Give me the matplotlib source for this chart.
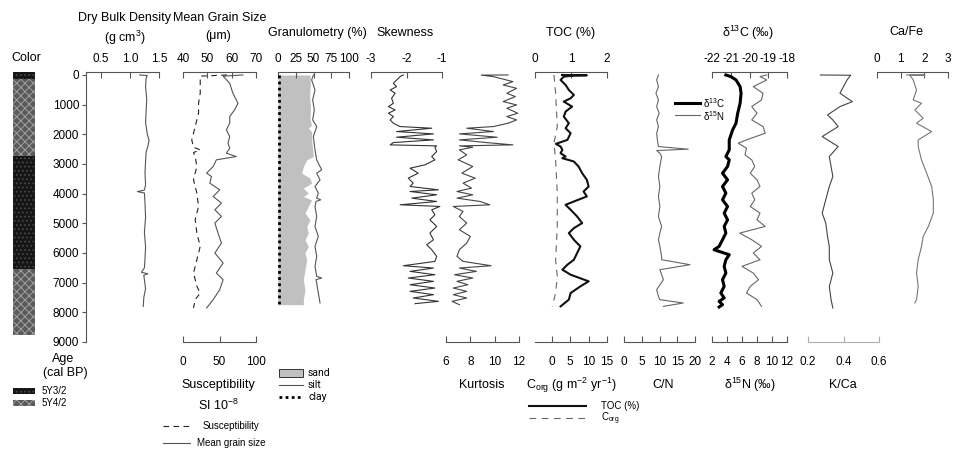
import matplotlib
matplotlib.use('Agg')
import matplotlib.pyplot as plt
from matplotlib.lines import Line2D
from matplotlib.patches import Rectangle

plt.rcParams['font.family'] = ['Liberation Sans', 'DejaVu Sans']
plt.rcParams['mathtext.fontset'] = 'custom'
plt.rcParams['mathtext.rm'] = 'Liberation Sans'
plt.rcParams['mathtext.it'] = 'Liberation Sans'
plt.rcParams['axes.unicode_minus'] = False
plt.rcParams['hatch.linewidth'] = 0.7

# ---------------- data ----------------
color_top = [-100, 150, 2730, 6540]
color_bot = [150, 2730, 6540, 8760]
color_code = ['5Y3/2', '5Y4/2', '5Y3/2', '5Y4/2']

dbd_age = [0, 20, 100, 400, 800, 1200, 1600, 2000, 2200, 2400, 2600, 2900, 3300, 3700, 3880,
           3930, 3980, 4300, 4800, 5300, 5800, 6200, 6500, 6650, 6700, 6750, 6900, 7200, 7500, 7800]
dbd = [1.17, 1.30, 1.28, 1.27, 1.29, 1.28, 1.27, 1.30, 1.33, 1.31, 1.28, 1.27, 1.26, 1.27, 1.25,
       1.13, 1.25, 1.26, 1.27, 1.25, 1.27, 1.26, 1.25, 1.20, 1.31, 1.24, 1.25, 1.27, 1.24, 1.23]

mgs_age = [0, 40, 280, 617, 954, 1178, 1402, 1627, 1851, 2076, 2300, 2468, 2637, 2749, 2861, 3085,
           3310, 3422, 3646, 3871, 4095, 4320, 4544, 4769, 4993, 5329, 5666, 6002, 6339, 6676, 6900,
           7237, 7573, 7854]
mgs = [64.6, 56.5, 59.2, 60.5, 62.6, 61.2, 59.2, 59.2, 57.8, 59.2, 58.5, 59.2, 57.8, 61.9, 53.7, 52.4,
       49.7, 51.7, 51.0, 55.1, 52.4, 55.8, 53.1, 55.8, 53.1, 54.4, 55.8, 53.1, 56.5, 53.7, 56.5,
       55.1, 52.4, 49.7]

sus_age = [0, 40, 280, 617, 954, 1290, 1739, 2188, 2435, 2524, 2614, 2749, 3085, 3534, 3983, 4432,
           4881, 5329, 5778, 6227, 6676, 7125, 7349, 7573, 7854]
sus = [60.0, 23.6, 23.6, 23.6, 21.3, 21.3, 16.7, 12.0, 14.4, 23.6, 14.4, 16.7, 19.0, 14.4, 19.0, 21.3,
       16.7, 19.0, 23.6, 19.0, 14.4, 19.0, 23.6, 16.7, 14.4]

sand_age = [0, 300, 700, 1100, 1515, 1683, 1795, 1907, 2188, 2749, 2861, 3085, 3310, 3478, 3646,
            3815, 3983, 4095, 4208, 4432, 4656, 4881, 5105, 5329, 5554, 5778, 6002, 6227, 6563,
            6900, 7237, 7573, 7742]
sand = [45.1, 45.5, 44.5, 45.8, 45.1, 47.4, 42.7, 47.4, 47.4, 49.8, 40.4, 35.7, 33.3, 45.1, 47.4,
        35.7, 42.7, 35.7, 47.4, 42.7, 38.0, 45.1, 40.4, 42.7, 38.0, 42.7, 38.0, 40.4, 38.0,
        35.7, 38.0, 35.7, 35.7]

silt_age = [0, 168, 505, 841, 1178, 1515, 1739, 2076, 2524, 2861, 3198, 3310, 3534, 3759, 3983,
            4151, 4208, 4264, 4432, 4769, 5105, 5442, 5778, 6115, 6451, 6788, 6844, 6900, 7013,
            7349, 7686]
silt = [49.8, 47.4, 52.1, 48.8, 51.2, 48.8, 54.5, 49.8, 52.1, 54.5, 61.5, 54.5, 59.2, 52.1, 56.8,
        54.5, 60.2, 53.5, 52.1, 54.5, 52.1, 56.8, 52.1, 54.5, 52.1, 54.5, 61.5, 53.5, 54.5,
        56.8, 59.2]

clay_age = [0, 1000, 2000, 3000, 4000, 5000, 6000, 7000, 7750]
clay = [1.0, 1.0, 1.0, 1.0, 1.0, 1.0, 1.0, 1.0, 1.0]

sk_age = [0, 56, 280, 393, 505, 617, 785, 954, 1066, 1178, 1290, 1402, 1515, 1627, 1739, 1795,
          1907, 1986, 2098, 2188, 2278, 2356, 2390, 2435, 2581, 2749, 2861, 3029, 3142, 3310,
          3478, 3646, 3759, 3871, 3927, 4039, 4151, 4264, 4376, 4432, 4544, 4712, 4881, 5105,
          5329, 5554, 5722, 5890, 6115, 6283, 6429, 6508, 6620, 6732, 6844, 6956, 7069, 7181,
          7293, 7405, 7517, 7630, 7708]
skew = [-2.09, -2.18, -2.37, -2.28, -2.46, -2.32, -2.42, -2.37, -2.51, -2.32, -2.51, -2.37, -2.46,
        -2.37, -2.18, -1.29, -2.28, -1.24, -2.28, -1.24, -2.37, -2.46, -1.15, -1.20, -1.15,
        -1.29, -1.20, -1.48, -1.90, -1.67, -1.95, -1.81, -1.90, -1.10, -1.90, -1.15, -1.85,
        -1.15, -2.18, -1.06, -1.29, -1.20, -1.34, -1.15, -1.34, -1.24, -1.43, -1.29, -1.15,
        -1.20, -2.09, -1.24, -1.90, -1.20, -1.95, -1.24, -1.90, -1.20, -1.90, -1.24, -1.81,
        -1.10, -1.76]

ku_age = [0, 5, 56, 224, 336, 449, 617, 729, 898, 1010, 1122, 1290, 1402, 1515, 1627, 1739, 1795,
          1907, 1986, 2098, 2188, 2278, 2356, 2390, 2435, 2524, 2693, 2861, 3085, 3310, 3478,
          3646, 3815, 3927, 4039, 4151, 4264, 4376, 4432, 4600, 4769, 4993, 5217, 5442, 5666,
          5890, 6115, 6283, 6429, 6508, 6620, 6732, 6844, 6956, 7069, 7181, 7293, 7405, 7517,
          7630, 7742]
kurt = [11.1, 8.9, 9.9, 11.5, 10.7, 11.8, 11.0, 11.7, 10.7, 11.8, 11.0, 11.9, 11.0, 11.8, 11.1,
        9.9, 7.7, 9.9, 7.1, 10.2, 7.1, 9.3, 11.5, 7.1, 8.2, 7.1, 7.7, 7.0, 8.2, 7.3, 8.4, 7.4,
        8.1, 6.9, 8.2, 6.9, 8.8, 9.6, 6.6, 7.4, 7.1, 7.7, 7.1, 8.0, 7.7, 7.1, 6.9, 7.4, 9.7, 7.1,
        8.5, 6.7, 8.2, 6.9, 7.8, 6.6, 7.7, 6.6, 7.7, 6.5, 7.1]

toc_age = [0, 10, 20, 56, 168, 336, 505, 673, 785, 898, 1066, 1234, 1402, 1627, 1795, 1963, 2188,
           2322, 2412, 2524, 2637, 2749, 2805, 2917, 3085, 3310, 3534, 3759, 3927, 4095, 4264,
           4376, 4544, 4769, 4993, 5161, 5329, 5554, 5778, 6002, 6227, 6395, 6563, 6732, 6956,
           7125, 7349, 7573, 7800]
toc = [0.75, 1.44, 1.08, 0.80, 0.71, 0.85, 0.94, 1.08, 0.99, 0.80, 1.03, 0.85, 0.80, 0.94, 0.85,
       0.99, 0.90, 0.58, 0.71, 0.76, 0.71, 0.85, 0.76, 1.08, 1.21, 1.31, 1.44, 1.49, 1.35, 1.44,
       1.08, 0.85, 0.99, 1.17, 1.31, 1.08, 0.94, 1.08, 1.26, 1.17, 1.08, 0.90, 0.76, 0.99, 1.49,
       1.26, 0.99, 0.94, 0.71]

corg_age = [0, 617, 1739, 2300, 2861, 3983, 5105, 6227, 6788, 7349, 7800]
corg = [0.63, 1.08, 1.53, 0.63, 1.08, 1.53, 1.53, 1.08, 1.53, 1.08, 0.18]

cn_age = [0, 168, 393, 617, 841, 1066, 1290, 1515, 1739, 1963, 2188, 2412, 2502, 2547, 2637, 2749,
          3085, 3422, 3759, 4095, 4432, 4769, 5105, 5329, 5554, 5778, 6115, 6227, 6395, 6563,
          6900, 7237, 7461, 7573, 7686, 7798]
cn = [9.7, 9.2, 9.7, 9.0, 9.7, 9.2, 9.9, 9.2, 9.7, 9.2, 9.4, 9.7, 18.1, 9.2, 10.1, 10.6, 10.1, 9.7,
      10.1, 9.7, 10.1, 9.7, 10.6, 10.1, 9.7, 10.1, 10.6, 10.6, 18.6, 10.1, 11.1, 9.2, 9.7, 10.1,
      16.7, 11.1]

d13c_age = [0, 56, 168, 393, 617, 954, 1290, 1627, 1851, 2188, 2524, 2749, 2861, 3085, 3310, 3534,
            3759, 3983, 4208, 4432, 4656, 4881, 5105, 5329, 5554, 5778, 5890, 6059, 6227, 6451,
            6676, 6900, 7125, 7349, 7517, 7630, 7742, 7820]
d13c = [-21.26, -20.99, -20.72, -20.50, -20.45, -20.50, -20.63, -20.72, -20.90, -21.08, -21.08,
        -21.26, -21.08, -21.17, -21.44, -21.17, -21.44, -21.26, -21.44, -21.17, -21.35, -21.17,
        -21.35, -21.26, -21.44, -21.62, -21.89, -21.08, -21.26, -21.35, -21.26, -21.44, -21.35,
        -21.53, -21.35, -21.62, -21.44, -21.62]

d15n_age = [0, 56, 168, 393, 617, 841, 1066, 1290, 1515, 1739, 1963, 2188, 2300, 2468, 2693, 2861,
            3085, 3310, 3534, 3759, 3983, 4208, 4432, 4656, 4881, 5105, 5329, 5554, 5778, 6002,
            6227, 6451, 6676, 6900, 7125, 7349, 7573, 7798]
d15n = [9.3, 8.4, 9.3, 7.5, 8.8, 8.6, 7.3, 8.0, 7.3, 8.8, 9.1, 6.6, 5.5, 6.6, 6.4, 7.3, 7.7, 7.1,
        8.0, 8.4, 7.3, 7.7, 7.1, 8.4, 8.0, 9.1, 5.7, 7.3, 8.6, 7.5, 8.4, 6.0, 7.5, 8.2, 7.1, 6.6,
        8.0, 8.6]

kca_age = [0, 10, 168, 393, 617, 898, 1066, 1346, 1515, 1739, 2076, 2412, 2749, 3085, 3422, 3759,
           4208, 4656, 4993, 5442, 5778, 6227, 6676, 7125, 7573, 7854]
kca = [0.27, 0.44, 0.42, 0.40, 0.38, 0.45, 0.38, 0.31, 0.34, 0.37, 0.28, 0.37, 0.32, 0.33, 0.34,
       0.32, 0.30, 0.28, 0.30, 0.31, 0.32, 0.32, 0.34, 0.32, 0.33, 0.34]

cafe_age = [0, 5, 10, 168, 505, 841, 954, 1178, 1458, 1627, 1907, 2188, 2412, 2861, 3310, 3759,
            4208, 4656, 5105, 5442, 5778, 6227, 6676, 7125, 7573, 7686]
cafe = [1.25, 2.03, 1.39, 1.53, 1.67, 1.53, 1.88, 1.60, 1.95, 1.67, 2.31, 1.74, 1.74, 1.88, 2.10,
        2.31, 2.38, 2.38, 2.17, 1.95, 1.88, 1.74, 1.67, 1.74, 1.67, 1.60]

age_ticks = [0, 1000, 2000, 3000, 4000, 5000, 6000, 7000, 8000, 9000]

# ---------------- layout helpers ----------------
W, H = 963, 453
Y_TOP, Y_BOT = 72, 342
AXC = '#555555'
fig = plt.figure(figsize=(W / 100, H / 100), dpi=100)


def fx(x):
    return x / W


def fy(y):
    return 1 - y / H


def make_ax(x0, x1):
    ax = fig.add_axes([fx(x0), fy(Y_BOT), (x1 - x0) / W, (Y_BOT - Y_TOP) / H])
    ax.set_ylim(9000, -100)
    ax.patch.set_alpha(0)
    for s in ax.spines.values():
        s.set_visible(False)
    ax.tick_params(left=False, labelleft=False, bottom=False, labelbottom=False,
                   top=False, labeltop=False, right=False, labelright=False)
    return ax


def scale(ax, where, xlim, ticks, labels=None, color=AXC):
    ax.set_xlim(xlim)
    ax.spines[where].set_visible(True)
    ax.spines[where].set_color(color)
    ax.spines[where].set_linewidth(0.8)
    ax.xaxis.set_ticks_position(where)
    ax.set_xticks(ticks)
    if labels is not None:
        ax.set_xticklabels(labels)
    if where == 'top':
        ax.tick_params(axis='x', top=True, labeltop=True, bottom=False, labelbottom=False,
                       direction='in', length=4, width=0.8, pad=5, labelsize=8.5, color=color)
    else:
        ax.tick_params(axis='x', bottom=True, labelbottom=True, top=False, labeltop=False,
                       direction='in', length=4, width=0.8, pad=10, labelsize=8.5, color=color)


def ftext(x, y, s, size=9, ha='center', **kw):
    fig.text(fx(x), fy(y), s, fontsize=size, ha=ha, va='center', **kw)


def fline(x0, x1, y, **kw):
    fig.add_artist(Line2D([fx(x0), fx(x1)], [fy(y), fy(y)], transform=fig.transFigure, **kw))


STYLE = {'5Y3/2': dict(facecolor='#161616', edgecolor='#4a4a4a', hatch='....'),
         '5Y4/2': dict(facecolor='#5a5a5a', edgecolor='#a0a0a0', hatch='xxxx')}

# ---------------- colour column ----------------
axc = make_ax(13, 35)
axc.set_xlim(0, 1)
for t, b, c in zip(color_top, color_bot, color_code):
    axc.bar(0.5, b - t, bottom=t, width=1, linewidth=0, **STYLE[c])
ftext(26, 58, 'Color')

# ---------------- dry bulk density + age axis ----------------
ax = make_ax(86, 159)
scale(ax, 'top', (0.25, 1.5), [0.5, 1.0, 1.5], ['0.5', '1.0', '1.5'])
ax.spines['left'].set_visible(True)
ax.spines['left'].set_color(AXC)
ax.spines['left'].set_linewidth(0.8)
ax.set_yticks(age_ticks)
ax.set_yticklabels([str(a) for a in age_ticks])
ax.tick_params(axis='y', left=True, labelleft=True, direction='out', length=3, width=0.8,
               pad=2, labelsize=8.5, color=AXC)
ax.plot(dbd, dbd_age, color='#555555', lw=0.8)
ftext(124, 18, 'Dry Bulk Density')
ftext(125, 38, '(g cm$^{3}$)')
ftext(63, 359, 'Age')
ftext(65, 373, '(cal BP)')

# ---------------- mean grain size / susceptibility ----------------
ax = make_ax(183, 256)
scale(ax, 'top', (40, 70), [40, 50, 60, 70])
ax.plot(mgs, mgs_age, color='#555555', lw=0.8)
ax2 = make_ax(183, 256)
scale(ax2, 'bottom', (0, 100), [0, 50, 100])
ax2.plot(sus, sus_age, color='#222222', lw=0.8, dashes=(5, 4))
ftext(220, 18, 'Mean Grain Size')
ftext(218, 36, '(μm)')
ftext(218, 385, 'Susceptibility')
ftext(218, 405, 'SI 10$^{-8}$')
fline(163, 190, 426, color='#222222', lw=0.8, dashes=(5, 4))
fline(163, 190, 443, color='#555555', lw=0.8)
ftext(231, 426, 'Susceptibility', size=7)
ftext(231, 443, 'Mean grain size', size=7)

# ---------------- granulometry ----------------
ax = make_ax(278, 349)
scale(ax, 'top', (0, 100), [0, 25, 50, 75, 100])
ax.fill_betweenx(sand_age, 0, sand, color='#c0c0c0', lw=0)
ax.plot(silt, silt_age, color='#555555', lw=0.8)
ax.plot(clay, clay_age, color='black', lw=2.0, linestyle=(0, (1, 1.2)))
ftext(317, 33, 'Granulometry (%)')
fig.add_artist(Rectangle((fx(279), fy(377)), (303 - 279) / W, 8 / H, transform=fig.transFigure,
                         facecolor='#c0c0c0', edgecolor='#333333', lw=0.7))
fline(279, 303, 385, color='#555555', lw=0.8)
fline(279, 303, 397, color='black', lw=2.0, linestyle=(0, (1, 1.2)))
ftext(308, 373, 'sand', size=7.5, ha='left', family=['Roboto', 'DejaVu Sans'])
ftext(308, 385, 'silt', size=7.5, ha='left', family=['Roboto', 'DejaVu Sans'])
ftext(308, 397, 'clay', size=7.5, ha='left', family=['Roboto', 'DejaVu Sans'])

# ---------------- skewness ----------------
ax = make_ax(371, 442)
scale(ax, 'top', (-3, -1), [-3, -2, -1])
ax.plot(skew, sk_age, color='#333333', lw=0.8)
ftext(405, 33, 'Skewness')

# ---------------- kurtosis ----------------
ax = make_ax(446, 519)
scale(ax, 'bottom', (6, 12), [6, 8, 10, 12])
ax.plot(kurt, ku_age, color='#444444', lw=0.8)
ftext(482, 385, 'Kurtosis')

# ---------------- TOC / Corg ----------------
ax = make_ax(535, 607)
scale(ax, 'top', (0, 2), [0, 1, 2])
ax.plot(toc, toc_age, color='#111111', lw=1.5)
ax2 = make_ax(535, 607)
scale(ax2, 'bottom', (-4.5, 15), [0, 5, 10, 15])
ax2.plot(corg, corg_age, color='#666666', lw=0.8, dashes=(6, 5))
ftext(571, 33, 'TOC (%)')
ftext(571, 385, 'C$_{\\mathrm{org}}$ (g m$^{-2}$ yr$^{-1}$)')
fline(529, 586, 406, color='#111111', lw=1.5)
fline(529, 586, 418, color='#666666', lw=0.8, dashes=(6, 5))
ftext(601, 406, 'TOC (%)', size=7, ha='left')
ftext(601, 419, 'C$_{\\mathrm{org}}$', size=7, ha='left')

# ---------------- C/N ----------------
ax = make_ax(624, 695)
scale(ax, 'bottom', (0, 20), [0, 5, 10, 15, 20])
ax.plot(cn, cn_age, color='#666666', lw=0.8)
ftext(663, 385, 'C/N')

# ---------------- d13C / d15N ----------------
ax = make_ax(712, 787)
scale(ax, 'top', (-22, -18), [-22, -21, -20, -19, -18])
ax.plot(d13c, d13c_age, color='black', lw=2.2)
ax2 = make_ax(712, 787)
scale(ax2, 'bottom', (2, 12), [2, 4, 6, 8, 10, 12])
ax2.plot(d15n, d15n_age, color='#666666', lw=0.8)
ftext(748, 33, 'δ$^{13}$C (‰)')
ftext(750, 385, 'δ$^{15}$N (‰)')
fline(675, 700, 103, color='black', lw=2.2)
fline(675, 700, 115, color='#666666', lw=0.8)
ftext(703, 103, 'δ$^{13}$C', size=7, ha='left')
ftext(703, 116, 'δ$^{15}$N', size=7, ha='left')

# ---------------- K/Ca ----------------
ax = make_ax(808, 879)
scale(ax, 'bottom', (0.2, 0.6), [0.2, 0.4, 0.6], ['0.2', '0.4', '0.6'], color='#b0b0b0')
ax.plot(kca, kca_age, color='#444444', lw=0.8)
ftext(843, 385, 'K/Ca')

# ---------------- Ca/Fe ----------------
ax = make_ax(877, 948)
scale(ax, 'top', (0, 3), [0, 1, 2, 3])
ax.plot(cafe, cafe_age, color='#777777', lw=0.8)
ftext(906, 32, 'Ca/Fe')

# ---------------- colour legend ----------------
for yy, c in [(388, '5Y3/2'), (400, '5Y4/2')]:
    fig.add_artist(Rectangle((fx(13), fy(yy + 6)), 22 / W, 6 / H, transform=fig.transFigure,
                             linewidth=0, **STYLE[c]))
    ftext(42, yy + 3, c, size=7, ha='left')

fig.savefig('out.png', dpi=100)
